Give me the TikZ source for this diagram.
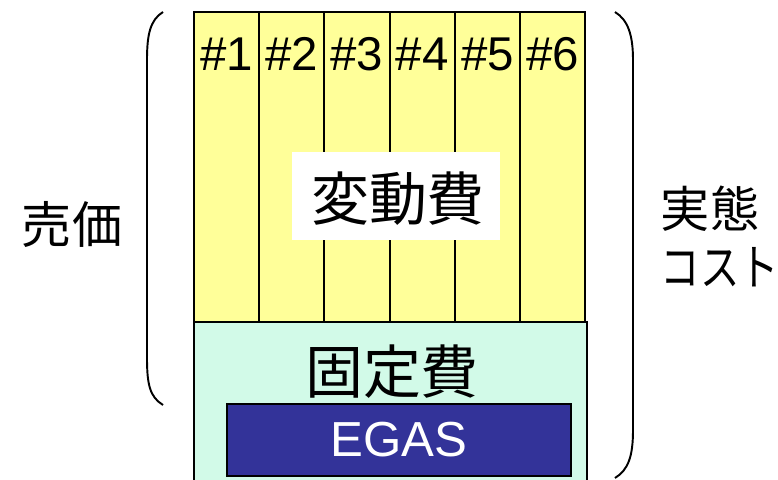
\documentclass[tikz,border=0pt]{standalone}
\usepackage{fontspec}
\setmainfont{Liberation Sans}
\newfontfamily\jp{Noto Sans CJK JP}

\definecolor{varfill}{HTML}{FFFF99}
\definecolor{fixfill}{HTML}{D2FAE8}
\definecolor{egasfill}{HTML}{333399}

\begin{document}
\begin{tikzpicture}[x=0.02cm, y=-0.02cm, line width=1.1pt]
\useasboundingbox (0,0) rectangle (778,480);

% fixed cost block
\filldraw[fill=fixfill] (194,322) rectangle (587,490);
\node (fix) at (392,372) {\jp\fontsize{33}{33}\selectfont 固定費};
\node[draw=black, line width=0.9pt, fill=egasfill, text=white,
      minimum width=6.88cm, minimum height=1.44cm] (egas) at (399,440)
  {\fontsize{28}{28}\selectfont EGAS};

% variable cost columns
\foreach \i in {1,...,6}
  \filldraw[fill=varfill] ({194+65.2*(\i-1)},12) rectangle ({194+65.2*\i},322);
\foreach \i in {1,...,6}
  \node (n\i) at ({194+65.2*(\i-0.5)},54) {\fontsize{27}{27}\selectfont\#\i};

\fill[white] (292,152) rectangle (500,240);
\node (var) at (398,199) {\jp\fontsize{33}{33}\selectfont 変動費};

% brackets
\draw (163,12) .. controls (150,20) and (147,35) .. (147,60) -- (147,358)
  .. controls (147,385) and (150,397) .. (163,405);
\draw (615,12) .. controls (628,20) and (633,35) .. (633,60) -- (633,430)
  .. controls (633,457) and (628,470) .. (615,478);

\node (price) at (72,224) {\jp\fontsize{28.5}{28.5}\selectfont 売価};
\node[anchor=west, align=left, inner sep=0pt,
      font=\jp\fontsize{28}{33}\selectfont] (cost) at (660,236)
  {実態\\\scalebox{0.8}[1]{コスト}};
\end{tikzpicture}
\end{document}
